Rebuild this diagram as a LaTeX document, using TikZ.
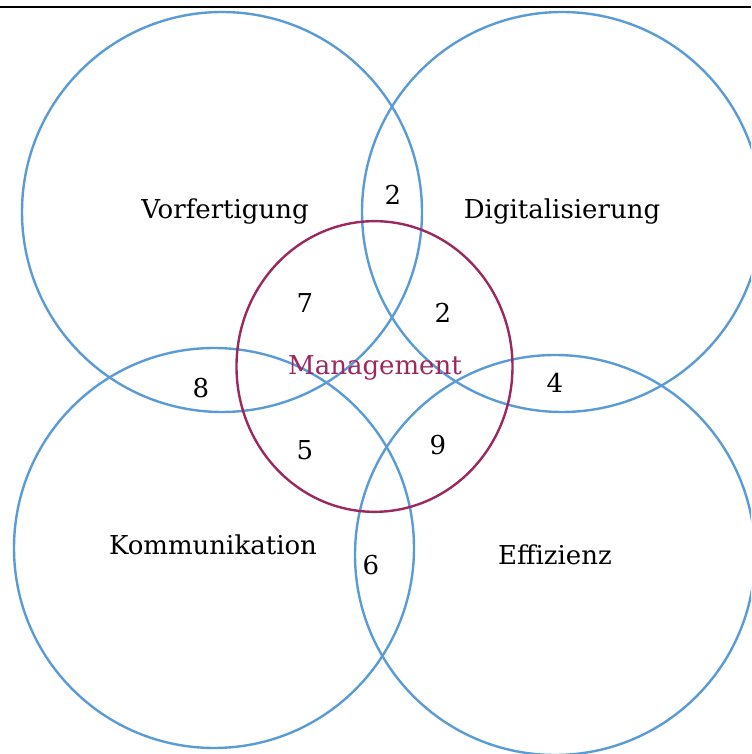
\documentclass[tikz,border=0pt]{standalone}
\usepackage{fontspec}
\setmainfont{DejaVu Serif}
\usepackage{tikz}

\definecolor{fieldblue}{RGB}{91,155,213}
\definecolor{mgmtred}{RGB}{155,40,95}
\tikzset{
  field/.style={draw=fieldblue, line width=1.8pt},
  lbl/.style={anchor=base, inner sep=0pt, font=\fontsize{19.5}{22}\selectfont},
}

\begin{document}
\begin{tikzpicture}[x=0.75pt,y=0.75pt]
    \useasboundingbox (0,0) rectangle (751,754);
    \clip (0,0) rectangle (751,754);
    % centres of the circles
    \coordinate (V) at (222,542);
    \coordinate (D) at (562,542);
    \coordinate (K) at (214,206);
    \coordinate (E) at (555,199);
    \coordinate (M) at (374.5,387.5);
    \coordinate (L1) at (0,747);
    \coordinate (L2) at (751,747);
    \draw[line width=2pt] (L1) -- (L2);
    \foreach \c in {V,D,K,E} {\draw[field] (\c) circle (150pt);}
    \draw[mgmtred, line width=1.8pt] (M) ellipse (103.5pt and 109pt);
    % area labels
    \node[lbl] (vor) at (225,535) {Vorfertigung};
    \node[lbl] (dig) at (562,535) {Digitalisierung};
    \node[lbl] (kom) at (213,199) {Kommunikation};
    \node[lbl] (eff) at (555,189) {Effizienz};
    \node[lbl, text=mgmtred] (mgmt) at (375,379) {Management};
    % counts
    \node[lbl] (nVD) at (393,549) {2};
    \node[lbl] (nVM) at (305,441) {7};
    \node[lbl] (nDM) at (443,431) {2};
    \node[lbl] (nKM) at (305,294) {5};
    \node[lbl] (nEM) at (438,299) {9};
    \node[lbl] (nVK) at (201,356) {8};
    \node[lbl] (nDE) at (555,361) {4};
    \node[lbl] (nKE) at (371,179) {6};
\end{tikzpicture}
\end{document}
